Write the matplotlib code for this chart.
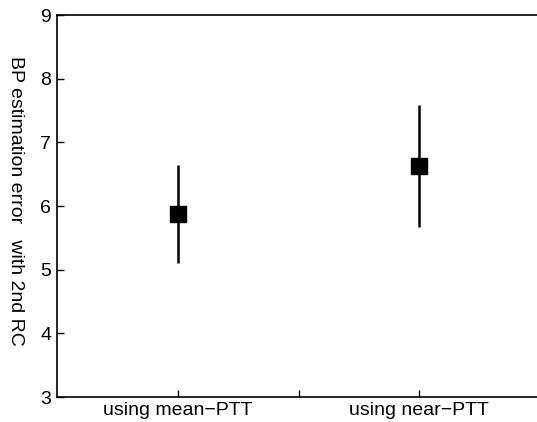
import numpy as np
import matplotlib
matplotlib.use("Agg")
import matplotlib.pyplot as plt

methods = ['using mean\u2212PTT', 'using near\u2212PTT']
mean_err = [5.87, 6.63]
err_low = [0.76, 0.96]
err_high = [0.77, 0.96]

plt.rcParams['font.family'] = ['Liberation Sans', 'DejaVu Sans']

fig = plt.figure(figsize=(5.37, 4.22), dpi=100)
ax = fig.add_axes([0.106, 0.059, 0.9, 0.905])

x = np.arange(1, len(methods) + 1)
ax.errorbar(x, mean_err, yerr=[err_low, err_high], fmt='s', color='black',
            markersize=11, elinewidth=1.8, capsize=0)

ax.set_xlim(0.5, 2.5)
ax.set_ylim(3, 9)
ax.set_xticks([1, 1.5, 2])
ax.set_xticklabels([methods[0], '', methods[1]], fontsize=14)
ax.set_yticks(range(3, 10))
ax.tick_params(axis='y', labelsize=14, pad=4)
ax.tick_params(direction='in', length=5, width=1)
ax.spines['right'].set_visible(False)
for s in ['left', 'bottom', 'top']:
    ax.spines[s].set_linewidth(1.2)

fig.text(0.028, 0.525, 'BP estimation error   with 2nd RC', rotation=270,
         ha='center', va='center', fontsize=14)

fig.savefig('out.png', dpi=100)
